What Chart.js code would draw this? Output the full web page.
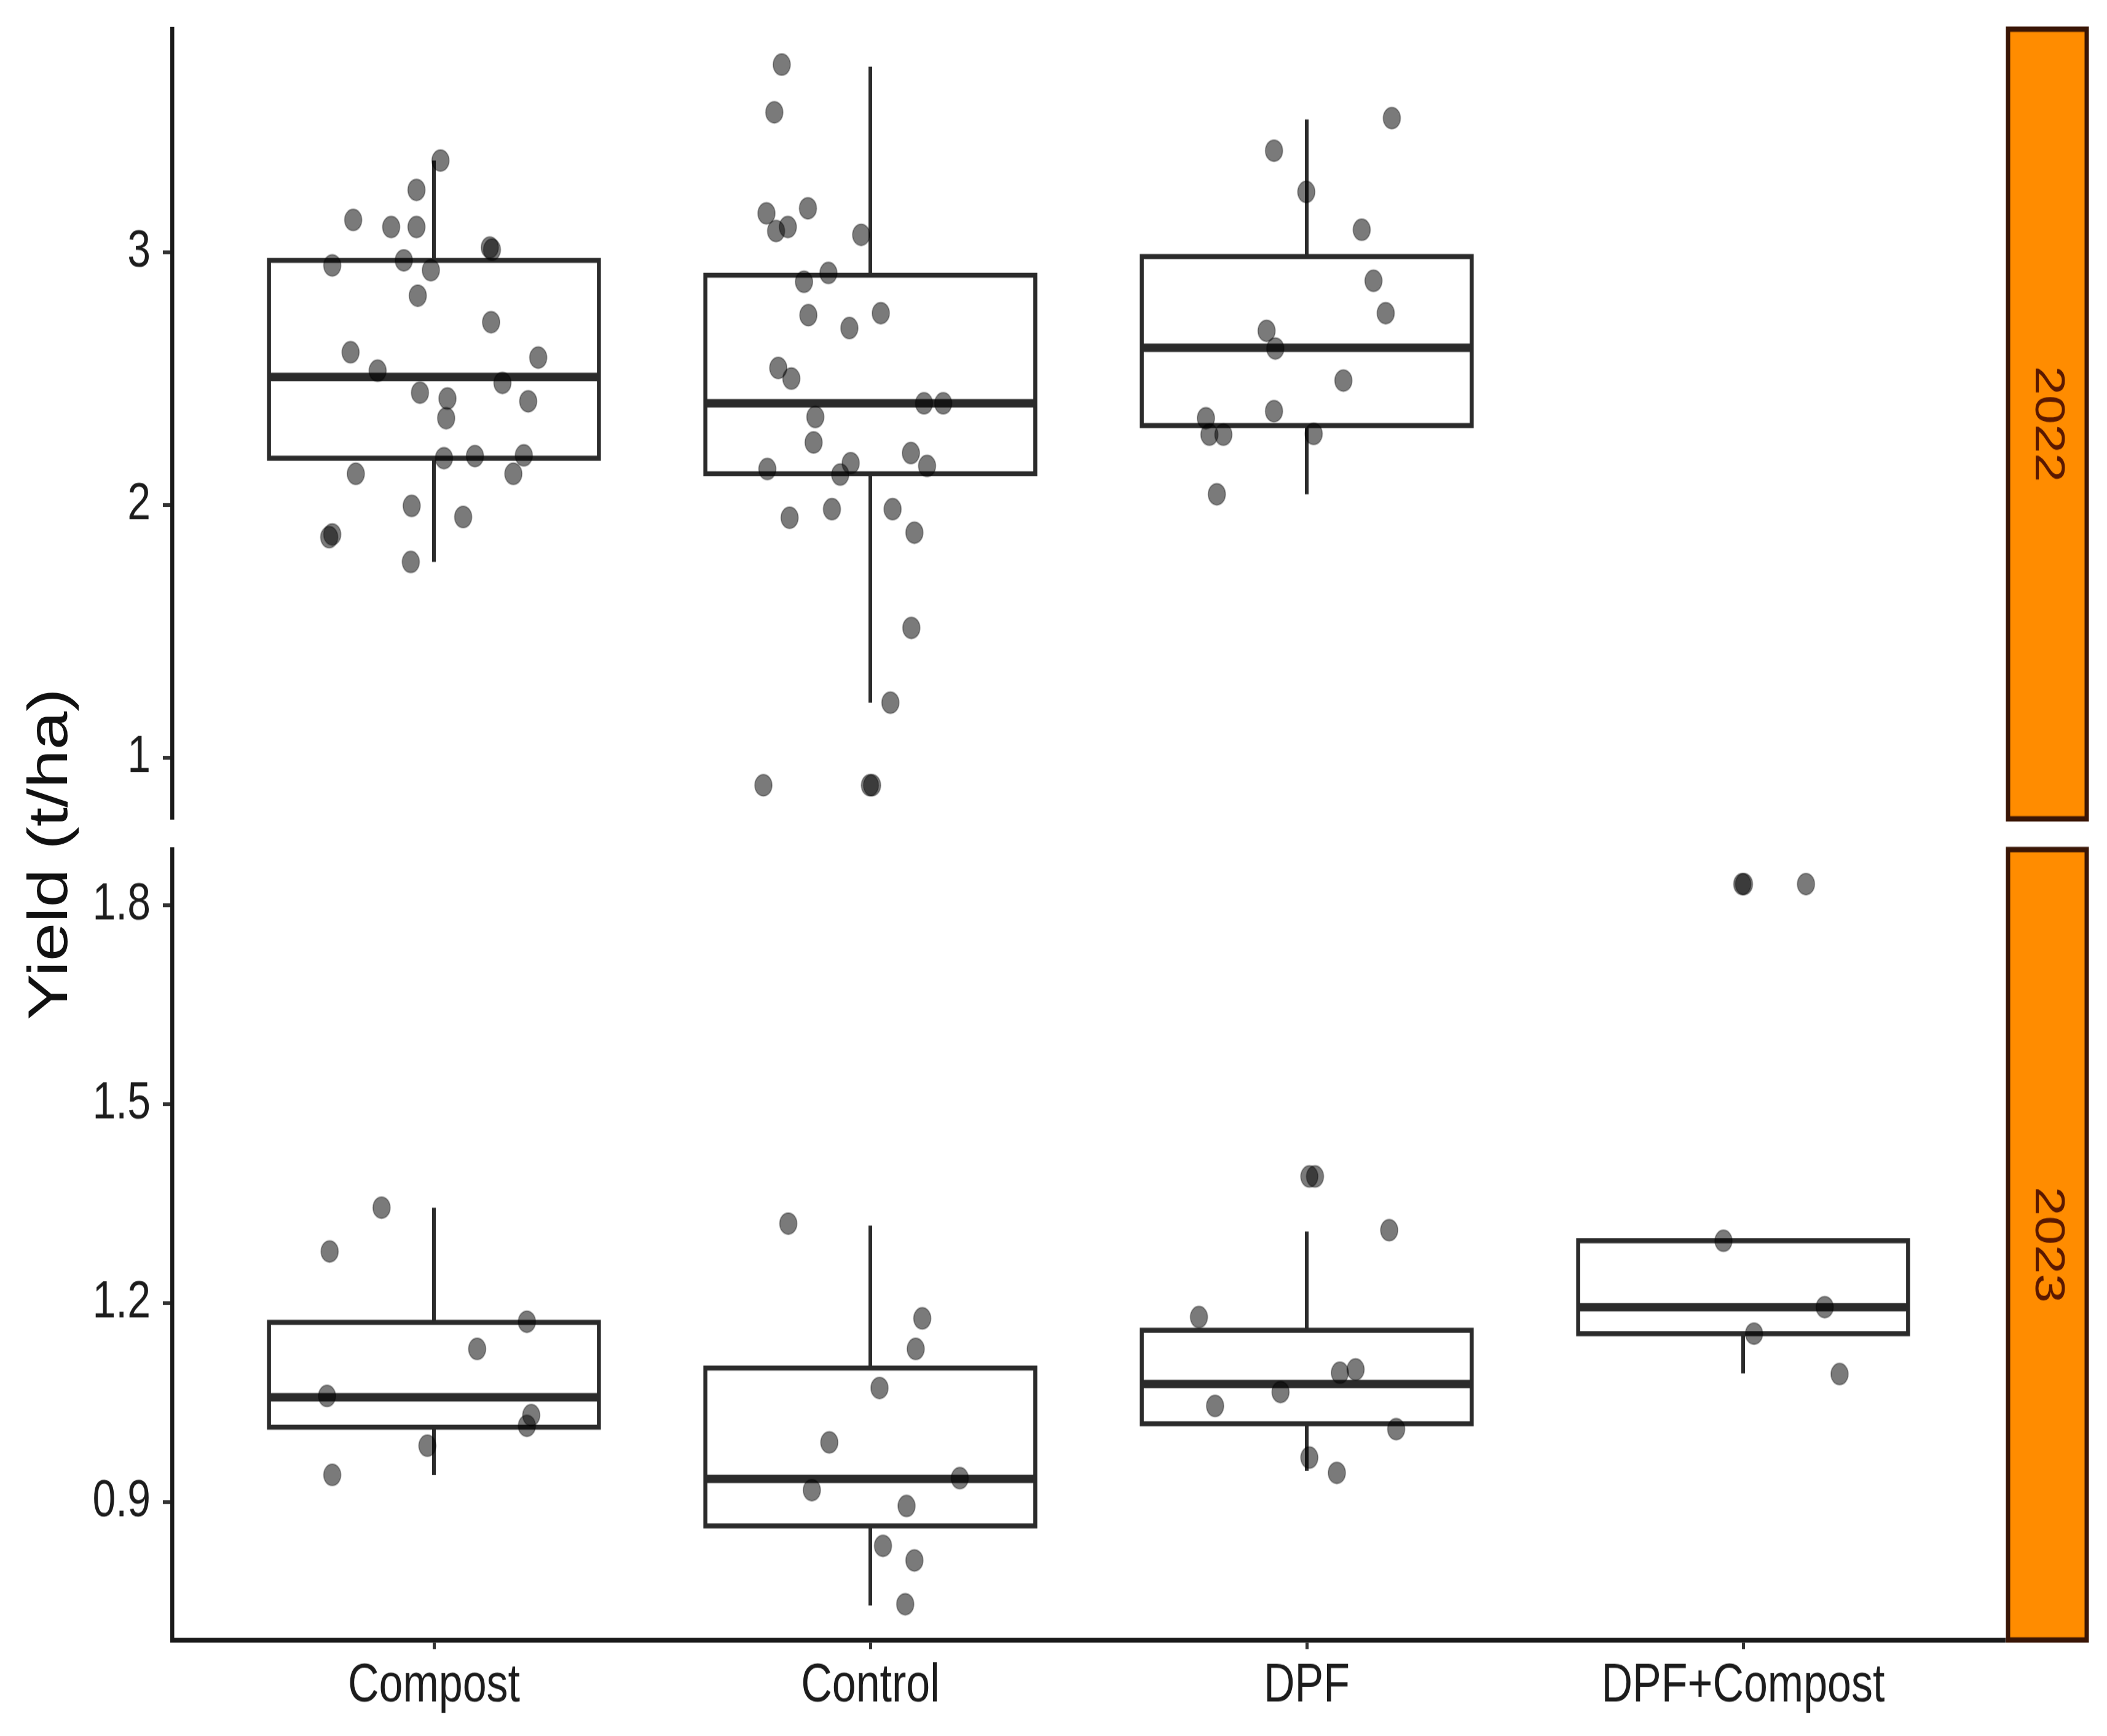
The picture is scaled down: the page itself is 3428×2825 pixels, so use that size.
<!DOCTYPE html>
<html>
<head>
<meta charset="utf-8">
<script src="https://cdn.jsdelivr.net/npm/chart.js@4.4.1/dist/chart.umd.min.js"></script>
<style>
  html { overflow: hidden; }
  body { margin: 0; padding: 0; background: #fff; width: 3428px; height: 2825px; }
  /* the source figure is stretched vertically, so the whole stage is too */
  #stage { position: relative; width: 3428px; height: 2260px; transform: scaleY(1.25); transform-origin: 0 0; }
  #stage canvas { position: absolute; left: 0; }
  #top { top: 0; }
  #bottom { top: 1084px; }
  #ytitle {
    position: absolute; left: 78px; top: 1112px;
    transform: translate(-50%, -50%) rotate(-90deg);
    font: 90px "Liberation Sans", Arial, sans-serif; line-height: 1;
    color: #111; white-space: nowrap;
  }
</style>
</head>
<body>
<div id="stage">
  <canvas id="top" width="3428" height="1084"></canvas>
  <canvas id="bottom" width="3428" height="1176"></canvas>
  <div id="ytitle">Yield (t/ha)</div>
</div>
<script>
const categories = ["Compost", "Control", "DPF", "DPF+Compost"];
const years = ["2022", "2023"];
const yTicks2022 = [1, 2, 3];
const yTickLabels2022 = ["1", "2", "3"];
const yTicks2023 = [0.9, 1.2, 1.5, 1.8];
const yTickLabels2023 = ["0.9", "1.2", "1.5", "1.8"];

// 2022 yields (t/ha) and jitter offsets (category units)
const compost2022 = [3.364, 3.248, 3.129, 3.101, 3.101, 3.020, 3.011, 2.949, 2.969, 2.930,
  2.829, 2.724, 2.605, 2.584, 2.532, 2.484, 2.445, 2.422, 2.411, 2.344,
  2.186, 2.194, 2.197, 2.124, 2.124, 1.997, 1.953, 1.873, 1.884, 1.775];
const compost2022Jitter = [0.015, -0.040, -0.185, -0.098, -0.040, 0.128, 0.133, -0.233, -0.069, -0.007,
  -0.037, 0.131, -0.191, 0.239, -0.129, 0.157, -0.032, 0.031, 0.216, 0.028,
  0.023, 0.094, 0.206, -0.179, 0.182, -0.051, 0.067, -0.240, -0.233, -0.053];
const control2022 = [3.744, 3.555, 3.155, 3.175, 3.085, 3.101, 3.070, 2.919, 2.884, 2.752,
  2.760, 2.701, 2.543, 2.501, 2.403, 2.403, 2.349, 2.248, 2.206, 2.155,
  2.143, 2.166, 2.121, 1.950, 1.984, 1.984, 1.891, 1.514, 1.218, 0.891, 0.891, 0.891];
const control2022Jitter = [-0.203, -0.220, -0.238, -0.143, -0.216, -0.189, -0.021, -0.096, -0.152, -0.142,
  0.024, -0.048, -0.211, -0.181, 0.123, 0.167, -0.126, -0.130, 0.093, 0.130,
  -0.236, -0.045, -0.069, -0.185, -0.088, 0.051, 0.101, 0.094, 0.046, -0.245, -0.001, 0.004];
const dpf2022 = [3.532, 3.403, 3.240, 3.090, 2.888, 2.760, 2.690, 2.620, 2.493, 2.372,
  2.344, 2.279, 2.279, 2.282, 2.043];
const dpf2022Jitter = [0.195, -0.075, -0.001, 0.126, 0.153, 0.181, -0.092, -0.072, 0.084, -0.075,
  -0.231, -0.223, -0.191, 0.016, -0.206];

// 2023 yields (t/ha) and jitter offsets
const compost2023 = [1.344, 1.278, 1.172, 1.131, 1.060, 1.031, 1.015, 0.985, 0.941];
const compost2023Jitter = [-0.120, -0.239, 0.213, 0.099, -0.245, 0.223, 0.213, -0.015, -0.233];
const control2023 = [1.320, 1.177, 1.131, 1.072, 0.990, 0.936, 0.918, 0.894, 0.834, 0.812, 0.746];
const control2023Jitter = [-0.188, 0.119, 0.104, 0.021, -0.094, 0.205, -0.134, 0.083, 0.029, 0.101, 0.080];
const dpf2023 = [1.391, 1.391, 1.310, 1.179, 1.095, 1.100, 1.066, 1.045, 1.010, 0.967, 0.944];
const dpf2023Jitter = [0.006, 0.019, 0.189, -0.247, 0.076, 0.112, -0.060, -0.210, 0.205, 0.006, 0.069];
const dpfCompost2023 = [1.832, 1.832, 1.832, 1.294, 1.194, 1.154, 1.093];
const dpfCompost2023Jitter = [-0.002, 0.002, 0.144, -0.045, 0.187, 0.025, 0.221];

// box stats (null = no group)
const whiskerLow2022 = [1.775, 1.218, 2.043, null];
const q1_2022 = [2.186, 2.124, 2.315, null];
const median2022 = [2.507, 2.403, 2.623, null];
const q3_2022 = [2.969, 2.910, 2.984, null];
const whiskerHigh2022 = [3.364, 3.736, 3.527, null];

const whiskerLow2023 = [0.941, 0.744, 0.947, 1.094];
const q1_2023 = [1.013, 0.864, 1.018, 1.154];
const median2023 = [1.058, 0.935, 1.078, 1.194];
const q3_2023 = [1.171, 1.102, 1.159, 1.294];
const whiskerHigh2023 = [1.344, 1.317, 1.308, 1.294];

const FONT = "'Liberation Sans', Arial, sans-serif";
const HALF_BOX = 0.378;
Chart.defaults.font.family = FONT;

function lineSet(points, width) {
  return {
    data: points,
    showLine: true,
    pointRadius: 0,
    borderColor: "#2b2b2b",
    borderWidth: width,
    borderCapStyle: "butt",
    borderJoinStyle: "miter",
    tension: 0,
  };
}

function buildDatasets(groups, lo, q1, med, q3, hi) {
  const pts = [];
  groups.forEach((g, i) => {
    if (!g) return;
    g[0].forEach((v, k) => pts.push({ x: i + 1 + g[1][k], y: v }));
  });
  // first dataset is drawn on top
  const sets = [{
    data: pts,
    showLine: false,
    pointRadius: 14,
    pointHoverRadius: 14,
    backgroundColor: "rgba(0,0,0,0.52)",
    borderColor: "rgba(0,0,0,0.3)",
    borderWidth: 2,
  }];
  categories.forEach((c, i) => {
    if (med[i] == null) return;
    const x = i + 1, l = x - HALF_BOX, r = x + HALF_BOX;
    sets.push(lineSet([{ x: l, y: med[i] }, { x: r, y: med[i] }], 11));
    sets.push(lineSet([
      { x: l, y: q1[i] }, { x: r, y: q1[i] }, { x: r, y: q3[i] },
      { x: l, y: q3[i] }, { x: l, y: q1[i] }, { x: r, y: q1[i] },
    ], 6.5));
    if (hi[i] > q3[i]) sets.push(lineSet([{ x: x, y: q3[i] }, { x: x, y: hi[i] }], 6));
    if (lo[i] < q1[i]) sets.push(lineSet([{ x: x, y: lo[i] }, { x: x, y: q1[i] }], 6));
  });
  return sets;
}

const stripPlugin = {
  id: "strip",
  afterDraw(chart, args, opts) {
    const { ctx, chartArea: a } = chart;
    const x = a.right + 5, w = 128;
    ctx.save();
    ctx.fillStyle = "#ff8c00";
    ctx.fillRect(x, a.top, w, a.bottom - a.top);
    ctx.strokeStyle = "#3a1606";
    ctx.lineWidth = 7;
    ctx.strokeRect(x, a.top, w, a.bottom - a.top);
    ctx.translate(x + w / 2, (a.top + a.bottom) / 2);
    ctx.rotate(Math.PI / 2);
    ctx.fillStyle = "#5a1800";
    ctx.font = "68px " + FONT;
    ctx.textAlign = "center";
    ctx.textBaseline = "middle";
    ctx.fillText(opts.text, 0, 0);
    ctx.restore();
  },
};

function yScale(min, max, ticks, labels) {
  return {
    type: "linear",
    min: min,
    max: max,
    afterFit: (s) => { s.width = 280; s.paddingTop = 0; s.paddingBottom = 0; },
    afterBuildTicks: (s) => { s.ticks = ticks.map((v) => ({ value: v })); },
    ticks: {
      callback: (v, i) => labels[i],
      font: { size: 68 },
      color: "#1c1c1c",
      padding: 20,
    },
    grid: { display: true, drawOnChartArea: false, drawTicks: true, tickLength: 15, tickWidth: 5, tickColor: "#333" },
    border: { display: true, color: "#1a1a1a", width: 6.5 },
  };
}

function xScale(show) {
  return {
    type: "linear",
    min: 0.4,
    max: 4.6,
    display: show,
    afterFit: (s) => { s.height = show ? 125 : 0; s.paddingLeft = 0; s.paddingRight = 0; },
    afterBuildTicks: (s) => { s.ticks = categories.map((c, i) => ({ value: i + 1 })); },
    ticks: {
      callback: (v, i) => categories[i],
      font: { size: 70 },
      color: "#1c1c1c",
      padding: 7,
      maxRotation: 0,
      autoSkip: false,
    },
    grid: { display: true, drawOnChartArea: false, drawTicks: true, tickLength: 12, tickWidth: 5, tickColor: "#333" },
    border: { display: true, color: "#1a1a1a", width: 6.5 },
  };
}

function makeChart(id, datasets, y, showX, pad, year) {
  return new Chart(document.getElementById(id), {
    type: "scatter",
    data: { datasets: datasets },
    plugins: [stripPlugin],
    options: {
      responsive: false,
      animation: false,
      devicePixelRatio: 1,
      events: [],
      layout: { autoPadding: false, padding: pad },
      scales: { x: xScale(showX), y: y },
      plugins: {
        legend: { display: false },
        tooltip: { enabled: false },
        strip: { text: year },
      },
    },
  });
}

makeChart("top",
  buildDatasets([[compost2022, compost2022Jitter], [control2022, control2022Jitter], [dpf2022, dpf2022Jitter], null],
    whiskerLow2022, q1_2022, median2022, q3_2022, whiskerHigh2022),
  yScale(0.758, 3.884, yTicks2022, yTickLabels2022), false,
  { left: 0, right: 166, top: 38, bottom: 18 }, years[0]);

makeChart("bottom",
  buildDatasets([[compost2023, compost2023Jitter], [control2023, control2023Jitter], [dpf2023, dpf2023Jitter], [dpfCompost2023, dpfCompost2023Jitter]],
    whiskerLow2023, q1_2023, median2023, q3_2023, whiskerHigh2023),
  yScale(0.692, 1.884, yTicks2023, yTickLabels2023), true,
  { left: 0, right: 166, top: 22, bottom: 0 }, years[1]);
</script>
</body>
</html>
